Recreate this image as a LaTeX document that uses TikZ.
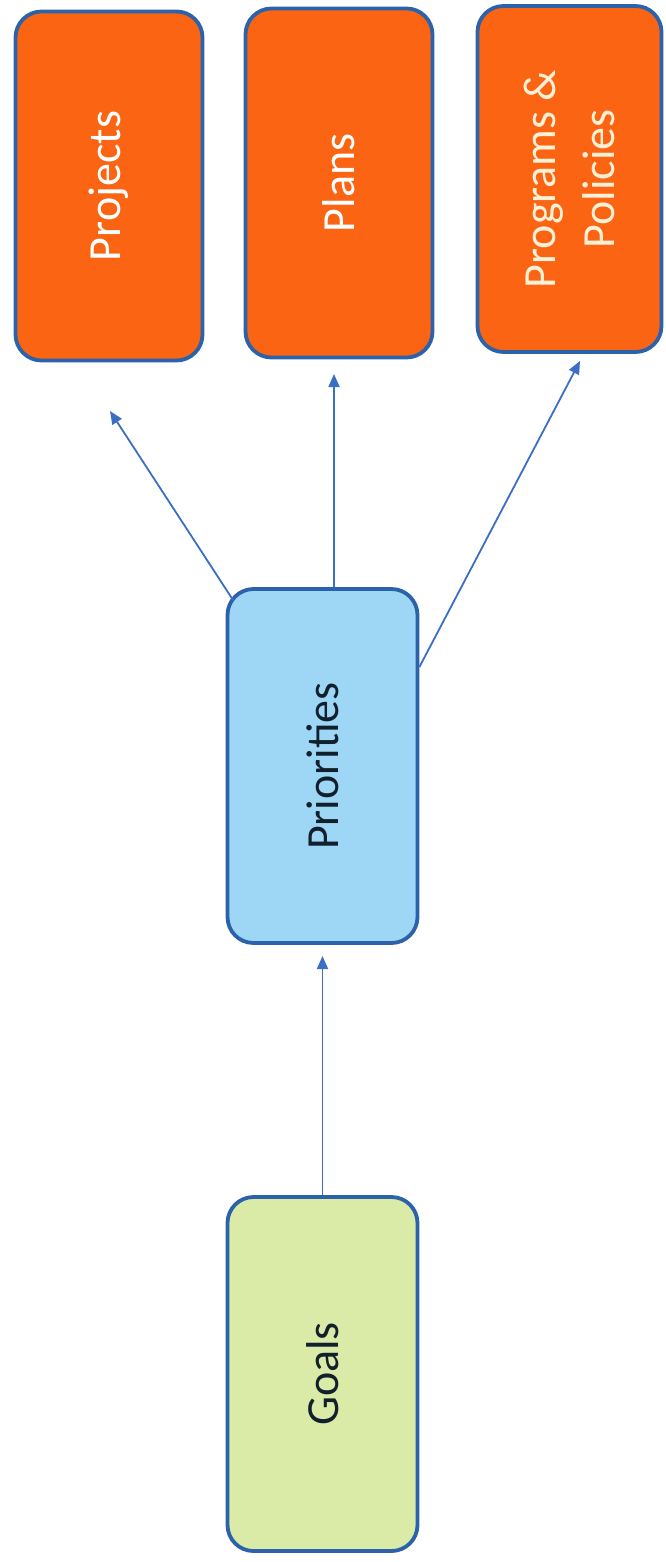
\documentclass[tikz,border=0pt]{standalone}
\usepackage{fontspec}
\setmainfont{Carlito}
\usetikzlibrary{arrows.meta}

\definecolor{edgeblue}{HTML}{2B62AA}
\definecolor{linkblue}{HTML}{3A6FC4}
\definecolor{actorange}{HTML}{FA6412}
\definecolor{priblue}{HTML}{9DD7F5}
\definecolor{goalgreen}{HTML}{D9EBA6}
\definecolor{inkdark}{HTML}{12202E}
\definecolor{cream}{HTML}{FFF0D6}

\begin{document}
\begin{tikzpicture}[x=1pt,y=-1pt,
  card/.style={draw=edgeblue, line width=3.8pt, rounded corners=26pt,
    inner sep=0pt, font=\fontsize{46}{59}\selectfont},
  action/.style={card, fill=actorange, text=white,
    minimum width=187pt, minimum height=349pt},
  stage/.style={card, minimum width=190pt, minimum height=354pt, text=inkdark},
  link/.style={draw=linkblue, line width=1.8pt,
    -{Triangle[length=13pt,width=11pt]}}]

\useasboundingbox (0,0) rectangle (665,1562);

% outcome boxes along the top
\node[action] (proj)  at (109,186) {\rotatebox{90}{Projects}};
\node[action] (plans) at (339,183) {\rotatebox{90}{Plans}};
\node[action, text=cream, minimum width=184pt, minimum height=346pt] (progs) at (569.5,179)
  {\hspace{8pt}\rotatebox{90}{\begin{tabular}{@{}c@{}}Programs \&\\Policies\end{tabular}}};

% the chain below
\node[stage, fill=priblue]   (prio)  at (322.5,766)  {\rotatebox{90}{Priorities}};
\node[stage, fill=goalgreen] (goals) at (322.5,1374) {\rotatebox{90}{Goals}};

% free arrow tips
\coordinate (tipProj)  at (110,411);
\coordinate (tipPlans) at (334,374);
\coordinate (tipProgs) at (580,361);
\coordinate (tipPrio)  at (322.5,956);

\draw[link] (goals.north) -- (tipPrio);
\draw[link] ([shift={(-89.5,-166)}]prio.center) -- (tipProj);
\draw[link] (prio.north -| tipPlans) -- (tipPlans);
\draw[link] ([yshift=99pt]prio.east) -- (tipProgs);
\end{tikzpicture}
\end{document}
